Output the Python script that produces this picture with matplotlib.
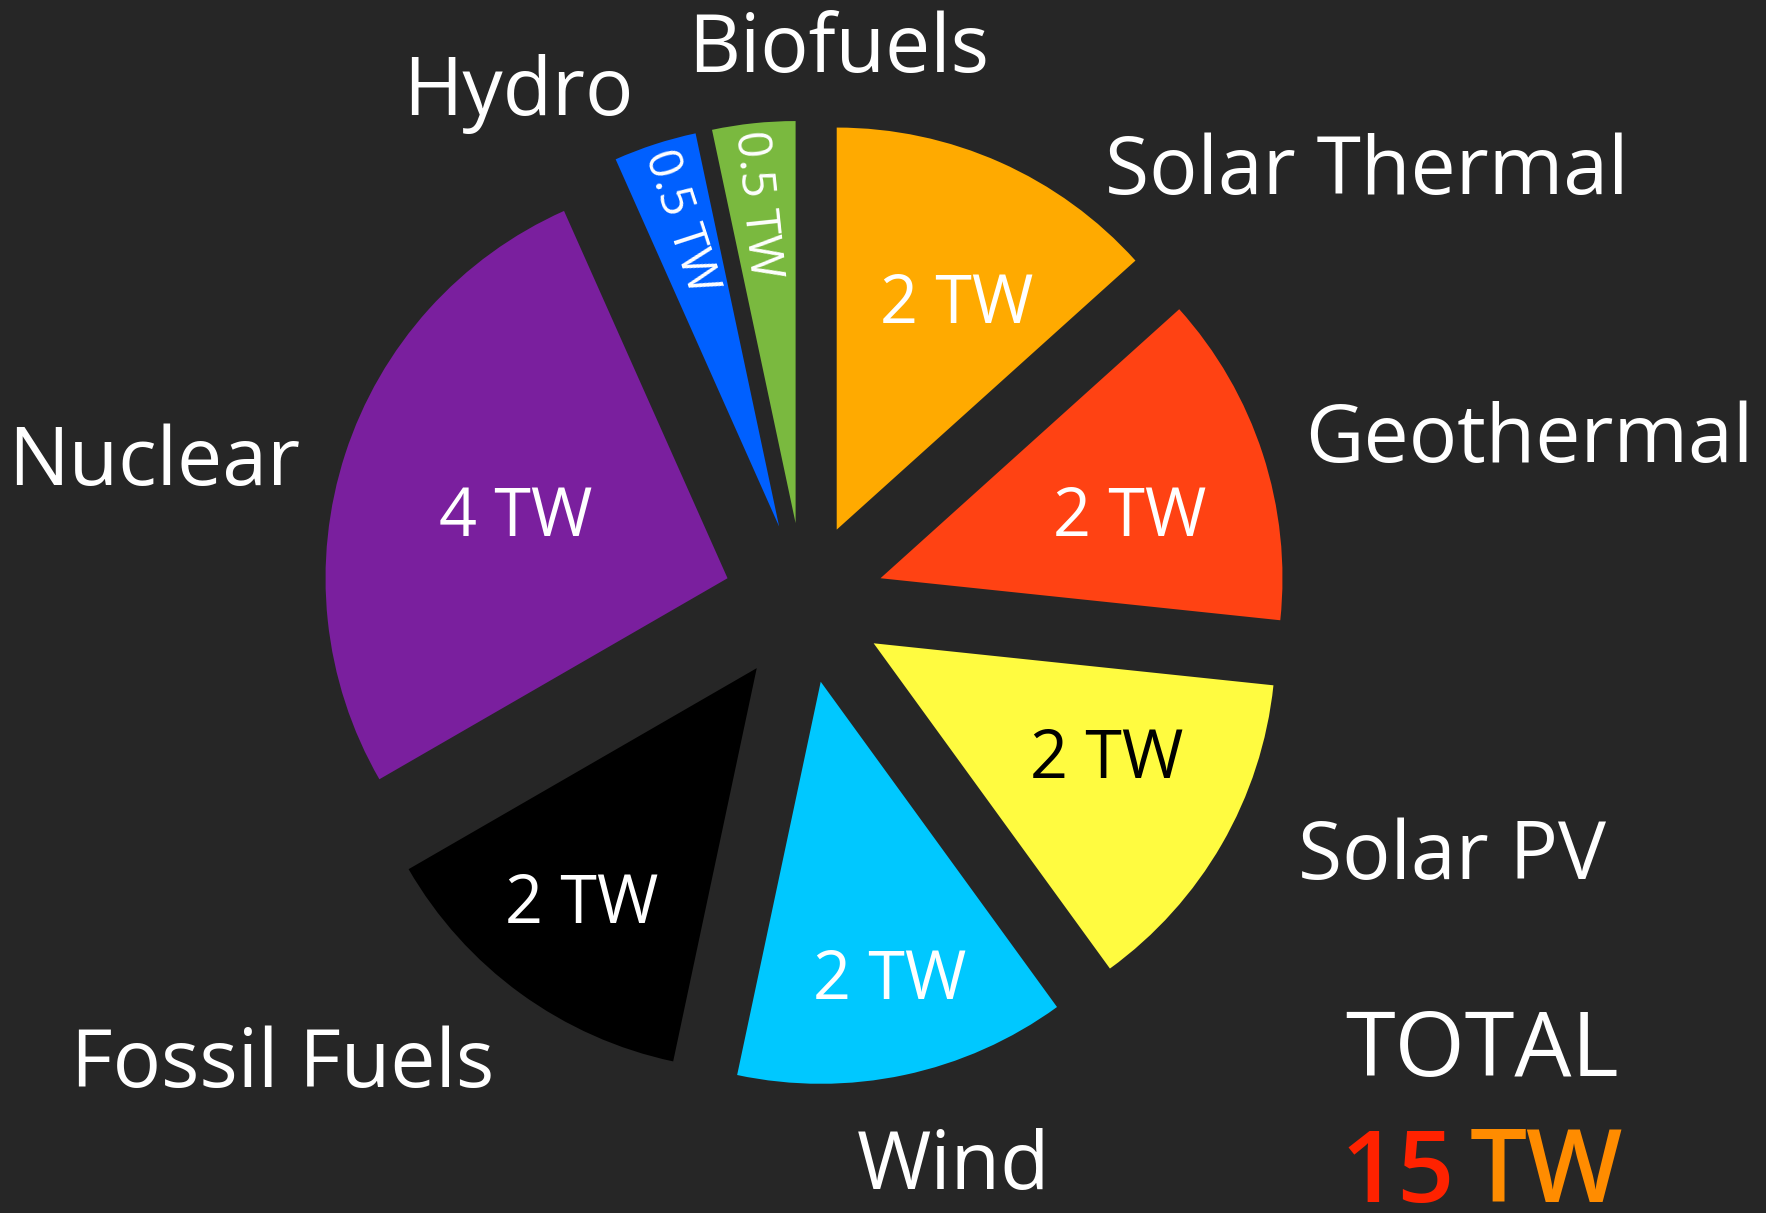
# Pie chart of world power sources (TW), dark background.
import matplotlib
matplotlib.use('Agg')
import matplotlib.pyplot as plt

plt.rcParams['font.family'] = ['Open Sans', 'DejaVu Sans']

# data
sources = ['Solar Thermal', 'Geothermal', 'Solar PV', 'Wind',
           'Fossil Fuels', 'Nuclear', 'Hydro', 'Biofuels']
power_tw = [2, 2, 2, 2, 2, 4, 0.5, 0.5]
colors = ['#FFAA00', '#FF4213', '#FFFB40', '#00C8FF',
          '#000000', '#7A1F9E', '#0060FF', '#7AB93F']
value_colors = ['white', 'white', 'black', 'white',
                'white', 'white', 'white', 'white']
total_tw = sum(power_tw)

bg = '#262626'

# layout: where the category names and the values go (data units, radius = 1)
name_pos = [(1.401, 1.017), (1.804, 0.350), (1.613, -0.686), (0.373, -1.457),
            (-1.297, -1.204), (-1.616, 0.294), (-0.711, 1.214), (0.085, 1.322)]
value_pos = [(0.381, 0.742), (0.810, 0.210), (0.754, -0.392), (0.213, -0.940),
             (-0.552, -0.751), (-0.717, 0.210), (-0.308, 0.948), (-0.118, 0.991)]


def main():
    fig = plt.figure(figsize=(17.66, 12.13), dpi=100, facecolor=bg)
    ax = fig.add_axes([0, 0, 1, 1])
    ax.set_facecolor(bg)

    wedges, _ = ax.pie(power_tw, colors=colors, startangle=90, counterclock=False,
                       explode=[0.2] * len(power_tw), radius=1,
                       wedgeprops=dict(linewidth=0))

    ax.set_xlim(-2.0, 2.393)
    ax.set_ylim(-1.517, 1.5)
    ax.set_aspect('auto')
    ax.axis('off')

    # category names around the pie
    for name, (x, y) in zip(sources, name_pos):
        ax.text(x, y, name, color='white', fontsize=58, ha='center', va='baseline')

    # values inside the wedges; the thin wedges get rotated text
    for w, v, c, (x, y) in zip(wedges, power_tw, value_colors, value_pos):
        label = f'{v:g} TW'
        if v < 1:
            mid = (w.theta1 + w.theta2) / 2
            ax.text(x, y, label, color=c, fontsize=34, ha='center', va='center',
                    rotation=mid - 180, rotation_mode='anchor')
        else:
            ax.text(x, y, label, color=c, fontsize=48, ha='center', va='center')

    # total in the corner
    ax.text(1.686, -1.176, 'TOTAL', color='white', fontsize=65, ha='center', va='baseline')
    ax.text(1.619, -1.490, f'{total_tw:g}', color='#FF2200', fontsize=72,
            fontweight='semibold', ha='right', va='baseline')
    ax.text(1.655, -1.490, 'TW', color='#FF8C00', fontsize=73,
            fontweight='semibold', ha='left', va='baseline')

    fig.savefig('out.png', dpi=100, facecolor=bg)


main()
